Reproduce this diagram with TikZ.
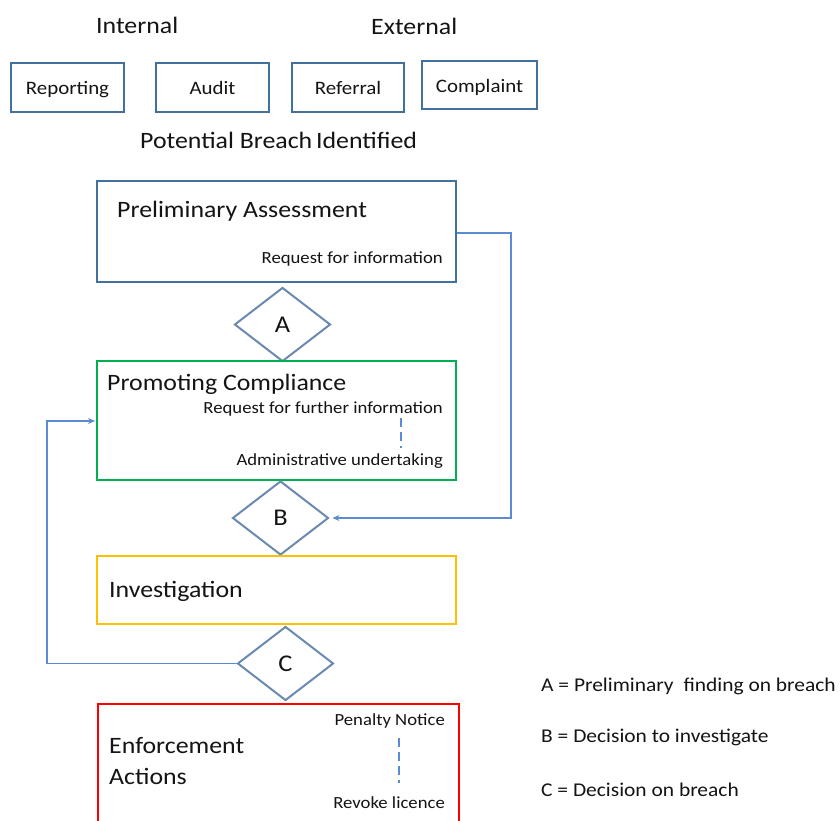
\documentclass[tikz,border=0pt]{standalone}
\usepackage{fontspec}
\setmainfont{Carlito}[FakeStretch=1.1]
\usetikzlibrary{shapes.geometric,arrows.meta}
\definecolor{boxblue}{HTML}{41719C}
\definecolor{diablue}{HTML}{6A8AB0}
\definecolor{lineblue}{HTML}{5B8BD0}
\definecolor{grn}{HTML}{00B050}
\definecolor{yel}{HTML}{FFC000}
\definecolor{txt}{HTML}{141414}
\tikzset{
  srcbox/.style={draw=boxblue, line width=2pt},
  stagebox/.style={line width=2pt},
  diam/.style={draw=diablue, line width=2pt, diamond, inner sep=0pt, minimum width=96pt, minimum height=74pt, font=\fontsize{24}{24}\selectfont, text=txt},
  lbl/.style={inner sep=0pt, text=txt},
  big/.style={lbl, font=\fontsize{23.5}{24}\selectfont},
  mid/.style={lbl, font=\fontsize{19}{20}\selectfont},
  leg/.style={lbl, font=\fontsize{19.5}{20}\selectfont},
  small/.style={lbl, font=\fontsize{17}{18}\selectfont},
  conn/.style={draw=lineblue, line width=1.7pt},
  arr/.style={conn, -{Stealth[length=7pt,width=6pt]}},
  dsh/.style={draw=lineblue, line width=1.4pt, dash pattern=on 9pt off 5pt}
}
\begin{document}
\begin{tikzpicture}[x=1pt,y=-1pt]
\clip (0,0) rectangle (840,821);
\fill[white] (0,0) rectangle (840,821);
% headings
\node[big, anchor=base west] (int) at (96,34) {Internal};
\node[big, anchor=base west] (ext) at (371,35) {External};
% source boxes
\draw[srcbox] (11,63) rectangle (124,112);
\node[mid, anchor=base] (rep) at (67.5,95) {Reporting};
\draw[srcbox] (156,63) rectangle (269,112);
\node[mid, anchor=base] (aud) at (212.5,95) {Audit};
\draw[srcbox] (292,63) rectangle (404,112);
\node[mid, anchor=base] (ref) at (348,95) {Referral};
\draw[srcbox] (422,61) rectangle (537,109);
\node[mid, anchor=base] (com) at (479.5,93) {Complaint};
\node[big, anchor=base west] (pbi) at (140,149) {Potential Breach\hspace{-2pt} Identified};
% Preliminary assessment
\node[draw=boxblue, stagebox, minimum width=359pt, minimum height=101pt, inner sep=0pt] (pa) at (276.5,231.5) {};
\node[big, anchor=base west] (pat) at (117,217) {Preliminary Assessment};
\node[small, anchor=base east] (rfi) at (443,263) {Request for information};
% diamond A
\node[diam] (A) at (282.5,324.5) {A};
% Promoting compliance
\node[draw=grn, stagebox, minimum width=359pt, minimum height=119pt, inner sep=0pt] (pc) at (276.5,420.5) {};
\node[big, anchor=base west] (pct) at (107,390) {Promoting Compliance};
\node[small, anchor=base east] (rffi) at (443,413) {Request for further information};
\node[small, anchor=base east] (adm) at (443,465) {Administrative undertaking};
\coordinate (d1a) at (401,418);
\coordinate (d1b) at (401,448);
\draw[dsh] (d1a) -- (d1b);
% diamond B
\node[diam] (B) at (280.5,518) {B};
% Investigation
\node[draw=yel, stagebox, minimum width=359pt, minimum height=68pt, inner sep=0pt] (inv) at (276.5,590) {};
\node[big, anchor=base west] (invt) at (109,597) {Investigation};
% diamond C
\node[diam] (C) at (285.5,663.5) {C};
% Enforcement
\node[draw=red, stagebox, minimum width=361pt, minimum height=140pt, inner sep=0pt, anchor=north west] (enf) at (97,703) {};
\node[big, anchor=base west] (enft) at (109,753) {Enforcement};
\node[big, anchor=base west] (act) at (109,784) {Actions};
\node[small, anchor=base east] (pen) at (445,725) {Penalty Notice};
\node[small, anchor=base east] (rev) at (445,808) {Revoke licence};
\coordinate (d2a) at (399,738);
\coordinate (d2b) at (399,783);
\draw[dsh] (d2a) -- (d2b);
% connectors
\coordinate (r1) at (511,233);
\coordinate (r2) at (511,518);
\draw[arr] (pa.east |- r1) -- (r1) -- (r2) -- ([xshift=3pt]B.east);
\coordinate (l1) at (47,663.5);
\coordinate (l2) at (47,421);
\draw[arr] (C.west) -- (l1) -- (l2) -- ([xshift=-1pt]pc.west |- l2);
% legend
\node[leg, anchor=base west] (la) at (541,691) {A = Preliminary\hspace{5pt} finding on breach};
\node[leg, anchor=base west] (lb) at (541,742) {B = Decision to investigate};
\node[leg, anchor=base west] (lc) at (541,796) {C = Decision on breach};
\end{tikzpicture}
\end{document}
